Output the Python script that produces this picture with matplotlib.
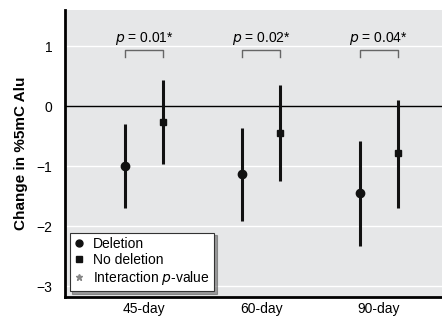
import matplotlib
matplotlib.use("Agg")
import matplotlib.pyplot as plt
from matplotlib.lines import Line2D
import numpy as np

plt.rcParams['font.family'] = ['Liberation Sans Narrow', 'Liberation Sans', 'DejaVu Sans']

# data
periods = ['45-day', '60-day', '90-day']
del_mean = [-1.00, -1.13, -1.45]
del_low = [-1.70, -1.91, -2.32]
del_high = [-0.30, -0.37, -0.58]
nodel_mean = [-0.26, -0.45, -0.78]
nodel_low = [-0.96, -1.24, -1.69]
nodel_high = [0.44, 0.36, 0.10]
p_values = ['0.01', '0.02', '0.04']

x = np.arange(len(periods))
off = 0.163

fig = plt.figure(figsize=(4.42, 3.17), dpi=100)
ax = fig.add_axes([0.147, 0.064, 0.853, 0.904])
ax.set_facecolor('#e6e7e8')

for yv in [1, -1, -2, -3]:
    ax.axhline(yv, color='white', lw=1.0, zorder=1)
ax.axhline(0, color='black', lw=1.0, zorder=2)

ax.vlines(x - off, del_low, del_high, color='#111111', lw=2.2, zorder=3)
ax.vlines(x + off, nodel_low, nodel_high, color='#111111', lw=2.2, zorder=3)
ax.plot(x - off, del_mean, 'o', color='#111111', ms=6, zorder=4)
ax.plot(x + off, nodel_mean, 's', color='#111111', ms=4.5, zorder=4)

# brackets with p-values
for i, p in enumerate(p_values):
    ax.plot([i - off, i - off, i + off, i + off], [0.82, 0.94, 0.94, 0.82],
            color='#666666', lw=1.0, zorder=3)
    ax.text(i, 1.13, '$p$ = ' + p + '*', ha='center', va='center', fontsize=10)

ax.set_xlim(-0.673, 2.54)
ax.set_ylim(-3.17, 1.6)
ax.set_yticks([-3, -2, -1, 0, 1])
ax.set_yticklabels(['\u22123', '\u22122', '\u22121', '0', '1'])
ax.set_xticks(x)
ax.set_xticklabels(periods)
ax.tick_params(length=0, labelsize=10)
ax.tick_params(axis='y', pad=9)
ax.tick_params(axis='x', pad=4)
ax.set_ylabel('Change in %5mC Alu', fontsize=11, fontweight='bold', labelpad=6)

for s in ['top', 'right']:
    ax.spines[s].set_visible(False)
ax.spines['left'].set_linewidth(2)
ax.spines['bottom'].set_linewidth(2)

handles = [
    Line2D([], [], marker='o', color='#111111', ls='none', ms=5),
    Line2D([], [], marker='s', color='#111111', ls='none', ms=4),
    Line2D([], [], marker='*', color='#888888', ls='none', ms=5),
]
labels = ['Deletion', 'No deletion', 'Interaction $p$-value']
leg = ax.legend(handles, labels, loc='lower left', bbox_to_anchor=(0.005, 0.01),
                fontsize=10, frameon=True, fancybox=False, shadow=True,
                handlelength=0.8, handletextpad=0.6, borderpad=0.3,
                labelspacing=0.15, borderaxespad=0.2)
leg.get_frame().set_edgecolor('#333333')
leg.get_frame().set_facecolor('white')
leg.get_frame().set_linewidth(0.8)

fig.savefig('out.png', dpi=100)
